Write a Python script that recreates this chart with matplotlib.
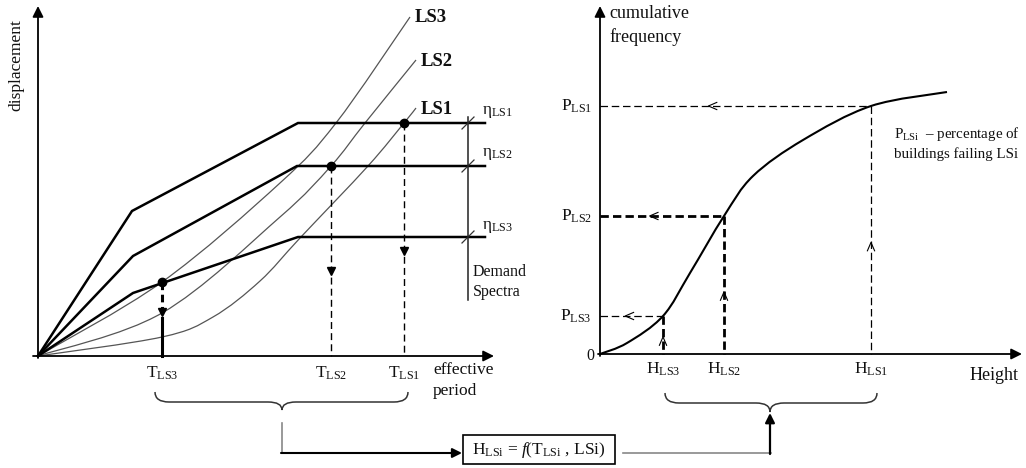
import numpy as np
import matplotlib
matplotlib.use("Agg")
import matplotlib.pyplot as plt
from matplotlib.path import Path
from matplotlib.patches import PathPatch, Rectangle

plt.rcParams['font.family'] = 'Liberation Serif'
plt.rcParams['mathtext.fontset'] = 'custom'
plt.rcParams['mathtext.rm'] = 'Liberation Serif'
plt.rcParams['mathtext.it'] = 'Liberation Serif:italic'

# ---- left panel: demand spectra and capacity curves (canvas pixels) ----
origin_left = (38, 356)
spectra = {
    'LS1': [(38, 356), (132, 211), (298, 123), (485, 123)],
    'LS2': [(38, 356), (133, 256), (297, 166), (485, 166)],
    'LS3': [(38, 356), (133, 293), (298, 237), (485, 237)],
}
capacity = {
    'LS3': [(38, 356), (162, 282), (280, 183), (336, 123), (410, 17)],
    'LS2': [(38, 356), (162, 313), (280, 217), (331, 166), (365, 123), (416, 60)],
    'LS1': [(38, 356), (162, 337), (213, 317), (260, 281), (300, 238),
            (368, 166), (404, 123), (416, 108)],
}
perf_points = {'LS3': (162, 282), 'LS2': (331, 166), 'LS1': (404, 123)}
period_labels = ['T$_{\\mathrm{LS3}}$', 'T$_{\\mathrm{LS2}}$', 'T$_{\\mathrm{LS1}}$']
demand_x = 468

# ---- right panel: cumulative frequency of building height ----
origin_right = (600, 354)
cdf_curve = [(600, 354), (627, 343), (663, 316), (690, 273), (724, 216),
             (753, 176), (803, 140), (871, 106), (947, 92)]
height_points = {'LS3': (663, 316), 'LS2': (724, 216), 'LS1': (871, 106)}


def smooth_path(pts):
    # Catmull-Rom through the points, handed to matplotlib as cubic Beziers
    P = np.asarray(pts, float)
    n = len(P)
    verts = [P[0]]
    codes = [Path.MOVETO]
    for i in range(n - 1):
        p0 = P[i - 1] if i > 0 else P[i]
        p1, p2 = P[i], P[i + 1]
        p3 = P[i + 2] if i + 2 < n else P[i + 1]
        verts += [p1 + (p2 - p0) / 6, p2 - (p3 - p1) / 6, p2]
        codes += [Path.CURVE4] * 3
    return Path(verts, codes)


def brace(ax, x0, x1, tip, y_top, y_mid, y_tip, r=14):
    verts = [(x0, y_top), (x0, y_mid), (x0 + r, y_mid), (tip - r, y_mid),
             (tip, y_mid), (tip, y_tip), (tip, y_mid), (tip + r, y_mid),
             (x1 - r, y_mid), (x1, y_mid), (x1, y_top)]
    codes = [Path.MOVETO, Path.CURVE3, Path.CURVE3, Path.LINETO,
             Path.CURVE3, Path.CURVE3, Path.CURVE3, Path.CURVE3,
             Path.LINETO, Path.CURVE3, Path.CURVE3]
    ax.add_patch(PathPatch(Path(verts, codes), fill=False, lw=1.1, ec='#333333'))


def chevron(ax, x, y, direction, size=6):
    if direction == 'left':
        xs, ys = [x + size * 1.4, x, x + size * 1.4], [y - size * 0.6, y, y + size * 0.6]
    else:
        xs, ys = [x - size * 0.6, x, x + size * 0.6], [y + size * 1.4, y, y + size * 1.4]
    ax.plot(xs, ys, color='k', lw=0.8)


fig = plt.figure(figsize=(10.26, 4.68), dpi=100)
ax = fig.add_axes([0, 0, 1, 1])
ax.set_xlim(0, 1026)
ax.set_ylim(468, 0)
ax.axis('off')

arrow_kw = dict(arrowstyle='-|>', color='k', lw=1.3, mutation_scale=16, shrinkA=0, shrinkB=0)
txt = dict(fontsize=12.5, color='#111111')

# left axes
ox, oy = origin_left
ax.annotate('', xy=(ox, 6), xytext=(ox, oy + 2), arrowprops=arrow_kw)
ax.annotate('', xy=(494, oy), xytext=(33, oy), arrowprops=arrow_kw)
ax.text(16, 65, 'displacement', rotation=90, ha='center', va='center', **txt)
ax.text(433, 370, 'effective', ha='left', va='center', **txt)
ax.text(433, 391, 'period', ha='left', va='center', **txt)

for name, pts in spectra.items():
    xs, ys = zip(*pts)
    ax.plot(xs, ys, color='k', lw=1.8, solid_joinstyle='miter')
    y_lvl = pts[-1][1]
    ax.plot([demand_x - 6, demand_x + 6], [y_lvl + 6, y_lvl - 6], color='#333333', lw=0.9)

eta_y = {'LS1': 112, 'LS2': 154, 'LS3': 227}
for name, y in eta_y.items():
    ax.text(482, y, 'η$_{\\mathrm{%s}}$' % name, ha='left', va='center', **txt)
ax.plot([demand_x, demand_x], [117, 300], color='#222222', lw=1.1)
ax.text(473, 272, 'Demand', ha='left', va='center', fontsize=11.5, color='#111111')
ax.text(473, 292, 'Spectra', ha='left', va='center', fontsize=11.5, color='#111111')

for name, pts in capacity.items():
    ax.add_patch(PathPatch(smooth_path(pts), fill=False, lw=0.9, ec='#555555'))
    ex, ey = pts[-1]
    ax.text(ex + 5, ey + 1, name, ha='left', va='center', fontsize=13.5,
            fontweight='bold', color='#111111')

for (name, (px, py)), label in zip(perf_points.items(), period_labels):
    ax.plot(px, py, 'o', color='k', ms=6)
    if name == 'LS3':
        ax.plot([px, px], [py, 318], color='k', lw=2.2, ls=(0, (2.5, 1.5)))
        ax.plot([px, px], [318, oy], color='k', lw=2.2)
        ax.plot(px, 312, 'v', color='k', ms=6)
    else:
        ax.plot([px, px], [py, oy], color='k', lw=1.0, ls=(0, (5, 3)))
        ax.plot(px, py + 0.55 * (oy - py), 'v', color='k', ms=6)
    ax.text(px, 373, label, ha='center', va='center', **txt)

# right axes
rx, ry = origin_right
ax.annotate('', xy=(rx, 6), xytext=(rx, ry + 2), arrowprops=arrow_kw)
ax.annotate('', xy=(1022, ry), xytext=(rx - 2, ry), arrowprops=arrow_kw)
ax.text(609, 14, 'cumulative', ha='left', va='center', fontsize=13, color='#111111')
ax.text(609, 37, 'frequency', ha='left', va='center', fontsize=13, color='#111111')
ax.text(594, 356, '0', ha='right', va='center', fontsize=11.5, color='#111111')
ax.text(970, 375, 'Height', ha='left', va='center', fontsize=13, color='#111111')
ax.text(894, 134, 'P$_{\\mathrm{LSi}}$  – percentage of', ha='left', va='center',
        fontsize=10.8, color='#111111')
ax.text(894, 154, 'buildings failing LSi', ha='left', va='center',
        fontsize=10.8, color='#111111')

ax.add_patch(PathPatch(smooth_path(cdf_curve), fill=False, lw=1.5, ec='k'))

for name, (hx, hy) in height_points.items():
    thick = name == 'LS2'
    h_lw = 2.0 if thick else 0.9
    h_ls = (0, (3, 1.5)) if thick else (0, (6, 3))
    ax.plot([rx, hx], [hy, hy], color='k', lw=h_lw, ls=h_ls)
    v_lw = 0.9 if name == 'LS1' else 2.0
    v_ls = (0, (6, 3)) if name == 'LS1' else (0, (3, 1.5))
    ax.plot([hx, hx], [hy, ry], color='k', lw=v_lw, ls=v_ls)
    chevron(ax, rx + 0.4 * (hx - rx), hy, 'left')
    chevron(ax, hx, hy + 0.55 * (ry - hy), 'up')
    ax.text(592, hy, 'P$_{\\mathrm{%s}}$' % name, ha='right', va='center', **txt)
    ax.text(hx, 369, 'H$_{\\mathrm{%s}}$' % name, ha='center', va='center', **txt)

# braces, link arrows and the relation box
brace(ax, 155, 408, 282, 392, 402, 410)
brace(ax, 665, 877, 770, 393, 403, 412)
ax.plot([282, 282], [423, 453], color='#888888', lw=1.2)
ax.annotate('', xy=(462, 453), xytext=(281, 453),
            arrowprops=dict(arrowstyle='-|>', color='k', lw=1.5, mutation_scale=14,
                            shrinkA=0, shrinkB=0))
ax.plot([623, 771], [453, 453], color='#888888', lw=1.2)
ax.annotate('', xy=(770, 413), xytext=(770, 454),
            arrowprops=dict(arrowstyle='-|>', color='k', lw=1.6, mutation_scale=14,
                            shrinkA=0, shrinkB=0))
ax.add_patch(Rectangle((463, 435), 152, 29, fill=False, lw=1.2, ec='k'))
ax.text(539, 450, 'H$_{\\mathrm{LSi}}$ = $\\it{f}$(T$_{\\mathrm{LSi}}$ , LSi)',
        ha='center', va='center', **txt)

fig.savefig('out.png', dpi=100)
